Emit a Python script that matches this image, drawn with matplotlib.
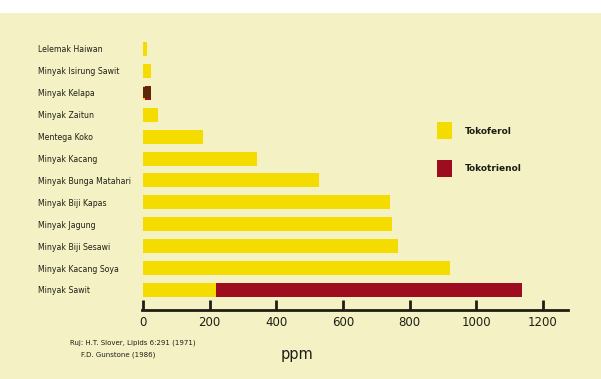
import matplotlib.pyplot as plt
from matplotlib.patches import Rectangle

# Tocopherol / tocotrienol content of fats and oils (ppm), bottom to top
oils = ['Minyak Sawit', 'Minyak Kacang Soya', 'Minyak Biji Sesawi', 'Minyak Jagung',
        'Minyak Biji Kapas', 'Minyak Bunga Matahari', 'Minyak Kacang', 'Mentega Koko',
        'Minyak Zaitun', 'Minyak Kelapa', 'Minyak Isirung Sawit', 'Lelemak Haiwan']
tokoferol = [220, 922, 765, 748, 740, 527, 342, 180, 45, 5, 25, 12]
tokotrienol = [918, 0, 0, 0, 0, 0, 0, 0, 0, 18, 0, 0]
xticks = [0, 200, 400, 600, 800, 1000, 1200]

YELLOW = '#f4dc00'
RED = '#9e0c20'
BG = '#f4f2c4'
INK = '#1e1e14'
FONT = ['DejaVu Sans']

fig = plt.figure(figsize=(6.01, 3.79), dpi=100, facecolor=BG)
# white strip across the top
fig.patches.append(Rectangle((0, 1 - 13 / 379), 1, 13 / 379, transform=fig.transFigure,
                             facecolor='white', edgecolor='none', zorder=0))

ax = fig.add_axes([142 / 601, 69 / 379, 426 / 601, 272 / 379])
ax.set_facecolor('none')

y = range(len(oils))
ax.barh(y, tokoferol, height=0.64, color=YELLOW, zorder=2)
ax.barh(y, tokotrienol, left=tokoferol, height=0.64, color=RED, zorder=2)
# coconut oil bar is dark throughout
ax.barh(9, tokoferol[9] + tokotrienol[9], height=0.5, color='#5a2a08', zorder=3)

ax.set_xlim(-3, 1275)
ax.set_ylim(-0.913, 11.5)

for s in ['top', 'right', 'left']:
    ax.spines[s].set_visible(False)
ax.spines['bottom'].set_linewidth(2)
ax.spines['bottom'].set_color(INK)

ax.set_xticks(xticks)
ax.set_xticklabels([str(v) for v in xticks], family=FONT, fontsize=8.5, color=INK)
ax.tick_params(axis='x', direction='in', length=7, width=2, color=INK, pad=4)

ax.set_yticks(list(y))
ax.set_yticklabels(oils, family=FONT, fontsize=5.6, color=INK)
ax.tick_params(axis='y', length=0, pad=75)
for lbl in ax.get_yticklabels():
    lbl.set_ha('left')

fig.text(297 / 601, 1 - 354 / 379, 'ppm', ha='center', va='center',
         fontsize=10.5, color=INK, family=FONT)
fig.text(70 / 601, 1 - 343 / 379, 'Ruj: H.T. Slover, Lipids 6:291 (1971)',
         ha='left', va='center', fontsize=5, color=INK, family=FONT)
fig.text(81 / 601, 1 - 355 / 379, 'F.D. Gunstone (1986)',
         ha='left', va='center', fontsize=5, color=INK, family=FONT)

# legend
for ytop, col, name in [(122, YELLOW, 'Tokoferol'), (160, RED, 'Tokotrienol')]:
    fig.patches.append(Rectangle((437 / 601, 1 - (ytop + 17) / 379), 15 / 601, 17 / 379,
                                 transform=fig.transFigure, facecolor=col,
                                 edgecolor='none'))
    fig.text(465 / 601, 1 - (ytop + 9) / 379, name, ha='left', va='center',
             fontsize=6.5, fontweight='bold', color=INK, family=FONT)

fig.savefig('out.png', dpi=100, facecolor=BG)
